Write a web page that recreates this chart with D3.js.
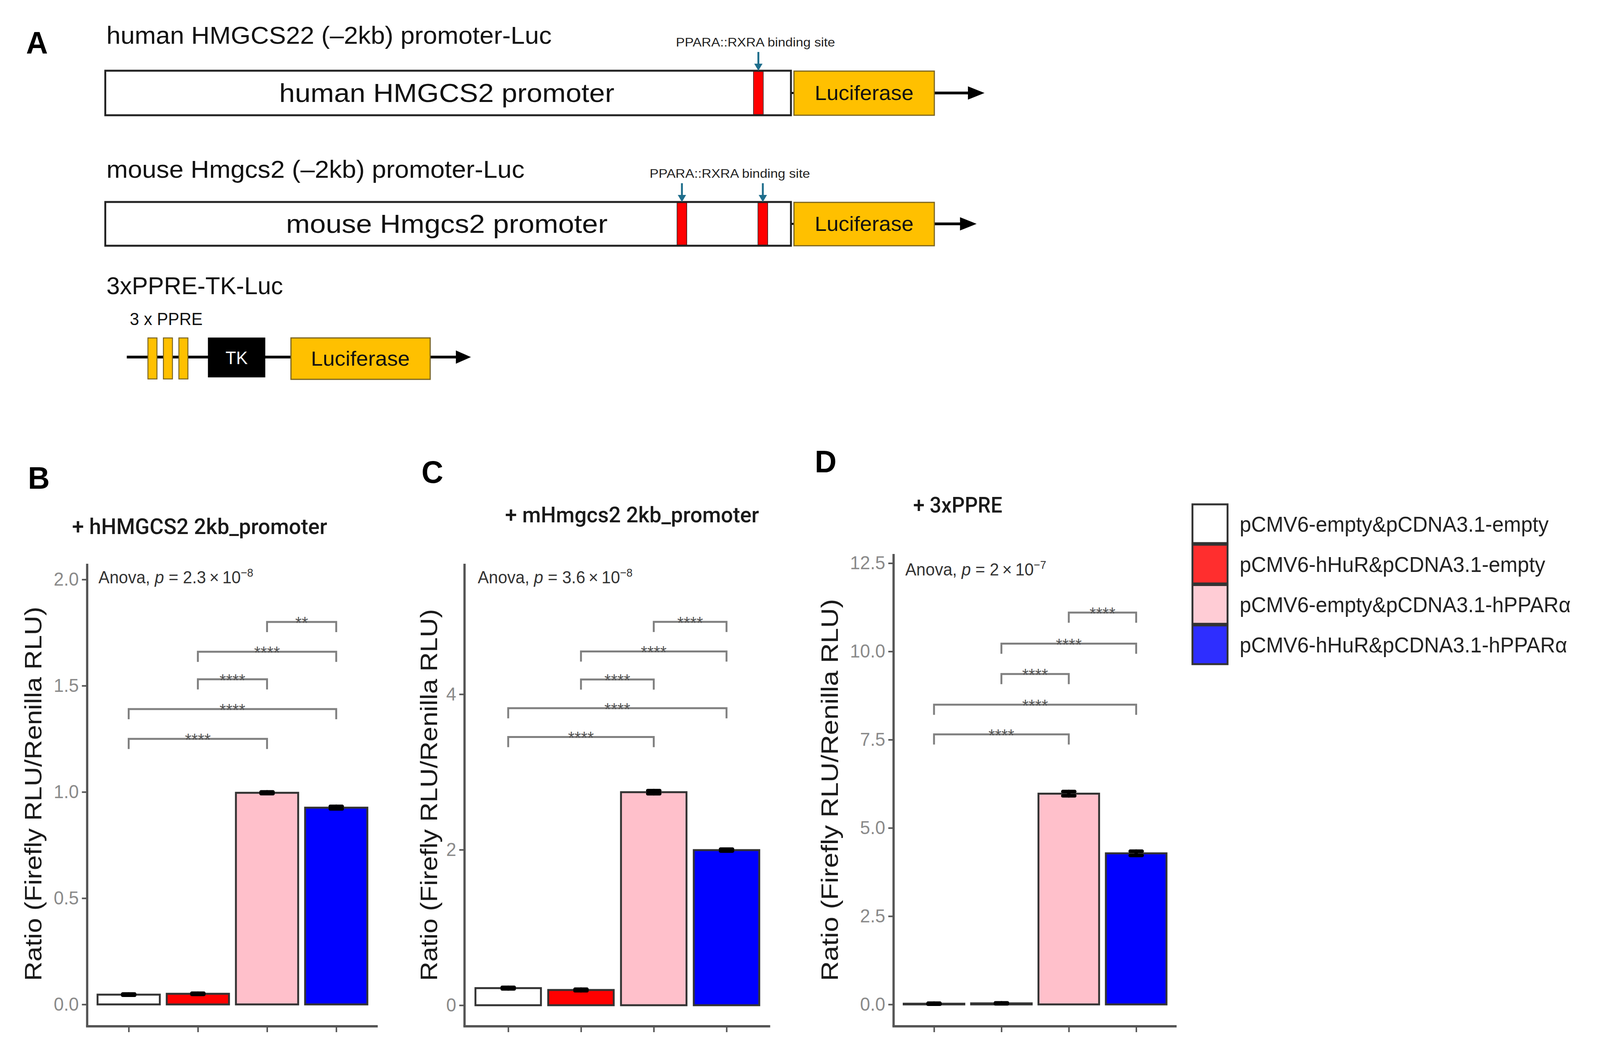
<!DOCTYPE html>
<html><head><meta charset="utf-8">
<script src="https://cdn.jsdelivr.net/npm/d3@7"></script>
<style>html,body{margin:0;padding:0;background:#fff;overflow:hidden}
#fig{display:block;width:100vw;height:100vh}</style>
</head><body>
<svg id="fig" viewBox="0 0 4240 2680" preserveAspectRatio="none" xmlns="http://www.w3.org/2000/svg"></svg>
<script>
// ================= DATA =================
const groups = ["pCMV6-empty&pCDNA3.1-empty","pCMV6-hHuR&pCDNA3.1-empty","pCMV6-empty&pCDNA3.1-hPPARα","pCMV6-hHuR&pCDNA3.1-hPPARα"];
const barColors = ["#FFFFFF","#FF0000","#FFC0CB","#0000FF"];
const keyColors = ["#FFFFFF","#FF2E2E","#FFCCD5","#2E2EFF"];

const meansB = [0.046, 0.050, 0.996, 0.926];
const errB   = [0.003, 0.003, 0.004, 0.006];
const meansC = [0.220, 0.196, 2.740, 1.995];
const errC   = [0.010, 0.010, 0.020, 0.012];
const meansD = [0.020, 0.030, 5.970, 4.280];
const errD   = [0.015, 0.015, 0.060, 0.060];

const comparisons = [[0,2],[0,3],[1,2],[1,3],[2,3]];
const bracketB = [1.25, 1.39, 1.53, 1.66, 1.80];
const bracketC = [3.45, 3.82, 4.19, 4.55, 4.93];
const bracketD = [7.65, 8.49, 9.36, 10.22, 11.10];
const sigB = ["****","****","****","****","**"];
const sigC = ["****","****","****","****","****"];
const sigD = ["****","****","****","****","****"];

const ticksB = [0, 0.5, 1.0, 1.5, 2.0];
const ticksC = [0, 2, 4];
const ticksD = [0, 2.5, 5.0, 7.5, 10.0, 12.5];

const titles = ["+ hHMGCS2 2kb_promoter","+ mHmgcs2 2kb_promoter","+ 3xPPRE"];
const letters = ["B","C","D"];
const anovaBase = ["2.3","3.6","2"];
const anovaExp = ["−8","−8","−7"];
const yLabel = "Ratio (Firefly RLU/Renilla RLU)";

// schematic (panel A) data: binding site positions in bp upstream of TSS
const humanSites = [-95];
const mouseSites = [-318, -82];
const ppreCopies = [1, 2, 3];

// ================= DRAW =================
const svg = d3.select("#fig");
svg.append("rect").attr("width",4240).attr("height",2680).attr("fill","#fff");
const SANS = "'Liberation Sans', Arial, sans-serif";

function txt(g, x, y, s, o) {
  o = o || {};
  const t = g.append("text").attr("x", x).attr("y", y).text(s)
    .attr("font-family", o.family || SANS)
    .attr("font-size", o.size || 40)
    .attr("fill", o.fill || "#111")
    .attr("text-anchor", o.anchor || "start");
  if (o.weight) t.attr("font-weight", o.weight);
  if (o.len) t.attr("textLength", o.len).attr("lengthAdjust", "spacingAndGlyphs");
  return t;
}

// ---------- Panel A ----------
const A = svg.append("g");
txt(A, 69, 137, "A", {size: 80, weight: "bold", fill: "#000"});

const promX = d3.scaleLinear().domain([-2000, 0]).range([279, 2096]);
const arrowCol = "#1F6E8C";

function arrowHead(g, tipX, y, len, half) {
  g.append("path").attr("d", `M${tipX},${y} L${tipX-len},${y-half} L${tipX-len},${y+half} Z`).attr("fill", "#000");
}

function construct(g, y0, h, title, titleY, titleLen, boxText, boxTextLen, sites, labelX, labelLen, tipX) {
  const yc = y0 + h/2;
  txt(g, 282, titleY, title, {size: 62, len: titleLen, fill: "#111"});
  g.append("line").attr("x1", promX(0)).attr("x2", 2104).attr("y1", yc).attr("y2", yc).attr("stroke","#000").attr("stroke-width",5);
  g.append("line").attr("x1", 2476).attr("x2", tipX-30).attr("y1", yc).attr("y2", yc).attr("stroke","#000").attr("stroke-width",7);
  arrowHead(g, tipX, yc, 44, 17);
  g.append("rect").attr("x", promX(-2000)).attr("y", y0).attr("width", promX(0)-promX(-2000)).attr("height", h)
    .attr("fill","#fff").attr("stroke","#222").attr("stroke-width",5);
  g.selectAll(null).data(sites).join("rect")
    .attr("x", d => promX(d) - 13).attr("y", y0 + 2).attr("width", 26).attr("height", h - 4)
    .attr("fill", "#FF0000").attr("stroke","#222").attr("stroke-width",1.5);
  g.selectAll(null).data(sites).join("line")
    .attr("x1", d => promX(d)).attr("x2", d => promX(d)).attr("y1", y0 - 48).attr("y2", y0 - 14)
    .attr("stroke", arrowCol).attr("stroke-width", 5);
  g.selectAll(null).data(sites).join("path")
    .attr("d", d => `M${promX(d)},${y0} L${promX(d)-11},${y0-18} L${promX(d)+11},${y0-18} Z`).attr("fill", arrowCol);
  txt(g, labelX, y0 - 62, "PPARA::RXRA binding site", {size: 32, len: labelLen, anchor: "middle", fill: "#222"});
  txt(g, 1184, yc + 23, boxText, {size: 66, len: boxTextLen, anchor: "middle", fill: "#111"});
  g.append("rect").attr("x", 2104).attr("y", y0+1).attr("width", 372).attr("height", h-1)
    .attr("fill","#FFC000").attr("stroke","#7a6420").attr("stroke-width",3);
  txt(g, 2290, yc + 18, "Luciferase", {size: 52, len: 262, anchor: "middle", fill: "#111"});
}

construct(A, 181, 114, "human HMGCS22 (–2kb) promoter-Luc", 112, 1180, "human HMGCS2 promoter", 888, humanSites, 2002, 422, 2609);
construct(A, 517, 112, "mouse Hmgcs2 (–2kb) promoter-Luc", 455, 1108, "mouse Hmgcs2 promoter", 852, mouseSites, 1934, 425, 2588);

// 3xPPRE-TK-Luc
txt(A, 282, 753, "3xPPRE-TK-Luc", {size: 62, len: 468});
txt(A, 344, 832, "3 x PPRE", {size: 44, len: 193});
A.append("line").attr("x1", 336).attr("x2", 1215).attr("y1", 914).attr("y2", 914).attr("stroke","#000").attr("stroke-width",7);
arrowHead(A, 1248, 914, 40, 17);
const ppreX = d3.scaleLinear().domain([1, 3]).range([404, 486]);
A.selectAll(null).data(ppreCopies).join("rect")
  .attr("x", d => ppreX(d) - 12).attr("y", 865).attr("width", 24).attr("height", 105)
  .attr("fill","#FFC000").attr("stroke","#7a6420").attr("stroke-width",2.5);
A.append("rect").attr("x", 551).attr("y", 864).attr("width", 152).attr("height", 102).attr("fill","#000");
txt(A, 627, 932, "TK", {size: 46, anchor: "middle", fill: "#fff"});
A.append("rect").attr("x", 771).attr("y", 865).attr("width", 369).attr("height", 106)
  .attr("fill","#FFC000").attr("stroke","#7a6420").attr("stroke-width",3);
txt(A, 955, 936, "Luciferase", {size: 52, len: 262, anchor: "middle", fill: "#111"});

// ---------- Bar panels ----------
const panels = [
  {means: meansB, errs: errB, br: bracketB, sig: sigB, ticks: ticksB, fmt: d3.format(".1f"),
   x0: 231, x1: 1001, yTop: 1443, yBot: 2627, dom: [-0.103, 2.074],
   title: titles[0], tX: 529, tY: 1367, tLen: 676, letter: letters[0], lX: 74, lY: 1251,
   aX: 261, aY: 1493, aB: anovaBase[0], aE: anovaExp[0], labX: 110, labY: 2032, labLen: 958},
  {means: meansC, errs: errC, br: bracketC, sig: sigC, ticks: ticksC, fmt: d3.format("d"),
   x0: 1231, x1: 2041, yTop: 1443, yBot: 2627, dom: [-0.271, 5.678],
   title: titles[1], tX: 1675, tY: 1337, tLen: 673, letter: letters[1], lX: 1117, lY: 1236,
   aX: 1266, aY: 1493, aB: anovaBase[1], aE: anovaExp[1], labX: 1158, labY: 2035, labLen: 952},
  {means: meansD, errs: errD, br: bracketD, sig: sigD, ticks: ticksD, fmt: d3.format(".1f"),
   x0: 2368, x1: 3118, yTop: 1418, yBot: 2627, dom: [-0.62, 12.76],
   title: titles[2], tX: 2538, tY: 1312, tLen: 236, letter: letters[2], lX: 2159, lY: 1209,
   aX: 2399, aY: 1473, aB: anovaBase[2], aE: anovaExp[2], labX: 2220, labY: 2022, labLen: 978}
];

panels.forEach(p => {
  const g = svg.append("g");
  const x = d3.scalePoint().domain(d3.range(groups.length)).range([p.x0, p.x1]).padding(0.6);
  const y = d3.scaleLinear().domain(p.dom).range([p.yBot, p.yTop]);
  const bw = x.step() * 0.9;

  txt(g, p.lX, p.lY, p.letter, {size: 80, weight: "bold", fill: "#000"});
  txt(g, p.tX, p.tY, p.title, {size: 55, len: p.tLen, anchor: "middle", fill: "#1a1a1a", weight: 500, family: "Roboto, 'Liberation Sans', sans-serif"});

  const yAxis = d3.axisLeft(y).tickValues(p.ticks).tickFormat(p.fmt).tickSize(14).tickPadding(8);
  const ya = g.append("g").attr("transform", `translate(${p.x0},0)`).call(yAxis);
  ya.select(".domain").attr("d", `M0,${p.yTop}V${p.yBot}`).attr("stroke","#555").attr("stroke-width",6);
  ya.selectAll(".tick line").attr("stroke","#555").attr("stroke-width",4);
  ya.selectAll(".tick text").attr("font-family", SANS).attr("font-size", 48).attr("fill", "#8a8a8a");

  const xAxis = d3.axisBottom(x).tickSize(15).tickFormat("");
  const xa = g.append("g").attr("transform", `translate(0,${p.yBot})`).call(xAxis);
  xa.select(".domain").attr("d", `M${p.x0 - 3},0H${p.x1}`).attr("stroke","#555").attr("stroke-width",6);
  xa.selectAll(".tick line").attr("stroke","#555").attr("stroke-width",4);

  g.append("text").attr("transform", `translate(${p.labX},${p.labY}) rotate(-90)`)
    .attr("text-anchor","middle").attr("font-family", SANS).attr("font-size", 64).attr("fill","#1a1a1a")
    .attr("textLength", p.labLen).attr("lengthAdjust","spacingAndGlyphs").text(yLabel);

  g.selectAll(null).data(p.means).join("rect")
    .attr("x", (d,i) => x(i) - bw/2).attr("width", bw)
    .attr("y", d => y(d)).attr("height", d => y(0) - y(d))
    .attr("fill", (d,i) => barColors[i]).attr("stroke","#333").attr("stroke-width",5);

  const eg = g.append("g").attr("stroke","#000").attr("stroke-width",9).attr("stroke-linecap","round");
  p.means.forEach((m,i) => {
    const e = p.errs[i];
    eg.append("line").attr("x1", x(i)).attr("x2", x(i)).attr("y1", y(m-e)).attr("y2", y(m+e));
    eg.append("line").attr("x1", x(i)-16).attr("x2", x(i)+16).attr("y1", y(m+e)).attr("y2", y(m+e));
    eg.append("line").attr("x1", x(i)-16).attr("x2", x(i)+16).attr("y1", y(m-e)).attr("y2", y(m-e));
  });

  const at = g.append("text").attr("x", p.aX).attr("y", p.aY).attr("font-family", SANS).attr("font-size", 44).attr("fill","#333");
  at.append("tspan").text("Anova, ");
  at.append("tspan").attr("font-style","italic").text("p");
  at.append("tspan").text(" = " + p.aB + "\u2009×\u200910");
  at.append("tspan").attr("font-size", 29).attr("dy", -17).text(p.aE);

  const bg = g.append("g");
  comparisons.forEach((c, k) => {
    const yy = y(p.br[k]);
    const xa1 = x(c[0]), xa2 = x(c[1]);
    bg.append("path").attr("d", `M${xa1},${yy+26}V${yy}H${xa2}V${yy+26}`)
      .attr("fill","none").attr("stroke","#808080").attr("stroke-width",5);
    txt(bg, (xa1+xa2)/2, yy + 18, p.sig[k], {size: 44, anchor: "middle", fill: "#555"});
  });
});

// ---------- Legend ----------
const L = svg.append("g");
const ly = d3.scaleBand().domain(groups).range([1291, 1700]).paddingInner(0.04);
L.selectAll(null).data(groups).join("rect")
  .attr("x", 3160).attr("width", 93).attr("y", d => ly(d)).attr("height", ly.bandwidth())
  .attr("fill", (d,i) => keyColors[i]).attr("stroke","#333").attr("stroke-width",5);
L.selectAll(null).data(groups).join("text")
  .attr("x", 3285).attr("y", d => ly(d) + ly.bandwidth()/2 + 20)
  .attr("font-family", SANS).attr("font-size", 55).attr("fill","#222").text(d => d);
</script>
</body></html>
